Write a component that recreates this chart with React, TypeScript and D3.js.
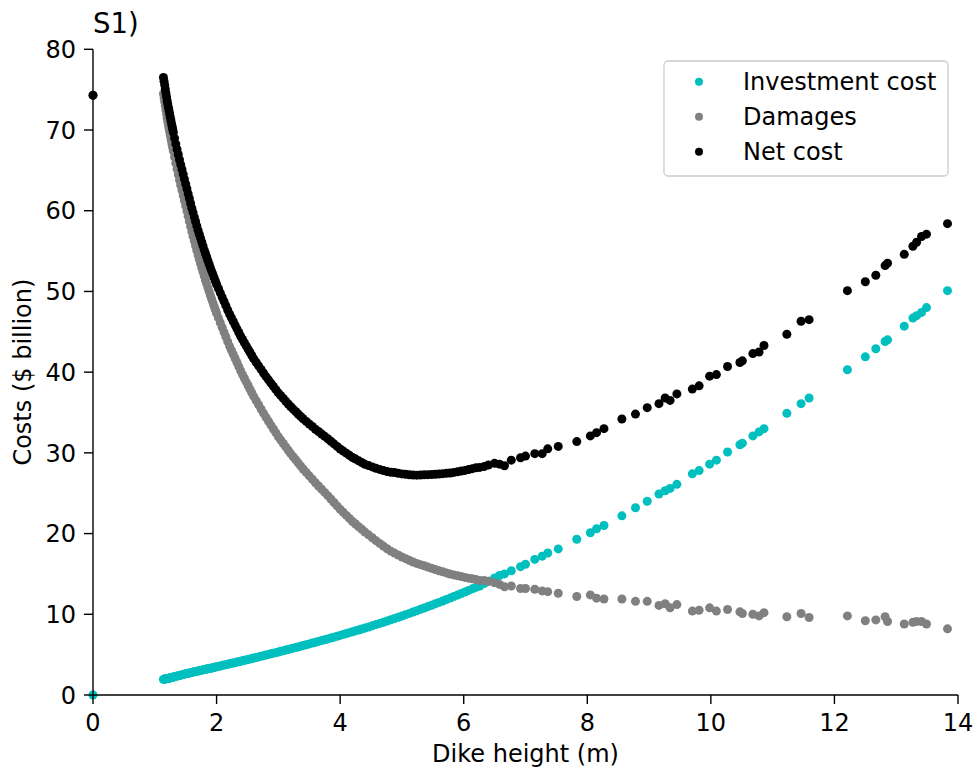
import React from "react";
import * as d3 from "d3";

const heights = [
  0,
  1.14, 1.15, 1.16, 1.17, 1.18, 1.19, 1.2, 1.21, 1.22, 1.23, 1.24, 1.25, 1.26, 1.27, 1.28, 1.29, 1.3,
  1.32, 1.34, 1.36, 1.38, 1.4, 1.42, 1.44, 1.46, 1.48, 1.5, 1.52, 1.54, 1.56, 1.58, 1.6,
  1.62, 1.64, 1.66, 1.68, 1.7, 1.72, 1.74, 1.76, 1.78, 1.8, 1.82, 1.84, 1.86, 1.88, 1.9, 1.92, 1.94, 1.96, 1.98, 2.0,
  2.03, 2.06, 2.09, 2.12, 2.15, 2.18, 2.21, 2.24, 2.27, 2.3, 2.33, 2.36, 2.39, 2.42, 2.45, 2.48, 2.51, 2.54, 2.57, 2.6,
  2.64, 2.68, 2.72, 2.76, 2.8, 2.84, 2.88, 2.92, 2.96, 3.0, 3.04, 3.08, 3.12, 3.16, 3.2, 3.24, 3.28, 3.32, 3.36, 3.4,
  3.45, 3.5, 3.55, 3.6, 3.65, 3.7, 3.75, 3.8, 3.85, 3.9, 3.95, 4.0, 4.05, 4.1, 4.15, 4.2, 4.25, 4.3, 4.35, 4.4,
  4.46, 4.52, 4.58, 4.64, 4.7, 4.76, 4.82, 4.88, 4.94, 5.0, 5.06, 5.12, 5.18, 5.24, 5.3, 5.36, 5.42, 5.48, 5.54, 5.6,
  5.66, 5.72, 5.78, 5.84, 5.9, 5.96, 6.02, 6.08, 6.14, 6.2,
  6.26, 6.33, 6.4, 6.5, 6.58, 6.66, 6.77, 6.92, 7.0, 7.15, 7.27, 7.36, 7.53, 7.83, 8.05, 8.15, 8.27,
  8.56, 8.78, 8.97, 9.16, 9.26, 9.34, 9.45, 9.7, 9.81, 9.98, 10.09, 10.27, 10.47, 10.51, 10.68, 10.78, 10.86,
  11.23, 11.46, 11.59, 12.21, 12.5, 12.67, 12.82, 12.86, 13.13, 13.27, 13.33, 13.41, 13.49, 13.83,
];

const investmentCost = [
  0,
  1.93, 1.95, 1.97, 1.98, 2.0, 2.02, 2.03, 2.05, 2.07, 2.09, 2.11, 2.13, 2.14, 2.16, 2.18, 2.2, 2.22,
  2.26, 2.3, 2.34, 2.38, 2.42, 2.46, 2.5, 2.54, 2.58, 2.62, 2.66, 2.69, 2.73, 2.76, 2.8,
  2.84, 2.87, 2.91, 2.94, 2.98, 3.01, 3.05, 3.08, 3.12, 3.15, 3.18, 3.22, 3.25, 3.29, 3.32, 3.35, 3.39, 3.42, 3.46, 3.49,
  3.54, 3.6, 3.65, 3.71, 3.76, 3.81, 3.87, 3.92, 3.97, 4.03, 4.08, 4.13, 4.18, 4.24, 4.29, 4.35, 4.4, 4.46, 4.51, 4.57,
  4.65, 4.72, 4.8, 4.87, 4.95, 5.03, 5.1, 5.18, 5.25, 5.33, 5.41, 5.49, 5.56, 5.64, 5.72, 5.8, 5.88, 5.96, 6.04, 6.12,
  6.22, 6.33, 6.43, 6.53, 6.64, 6.74, 6.85, 6.95, 7.06, 7.17, 7.27, 7.38, 7.49, 7.61, 7.72, 7.83, 7.95, 8.06, 8.18, 8.29,
  8.43, 8.58, 8.72, 8.87, 9.02, 9.17, 9.32, 9.48, 9.63, 9.79, 9.95, 10.11, 10.28, 10.44, 10.61, 10.78, 10.95, 11.12, 11.3, 11.47,
  11.65, 11.83, 12.01, 12.2, 12.38, 12.57, 12.76, 12.96, 13.15, 13.35,
  13.5, 13.8, 14.1, 14.5, 14.8, 15.0, 15.4, 15.9, 16.2, 16.8, 17.2, 17.6, 18.1, 19.3, 20.1, 20.6, 21.0,
  22.2, 23.2, 24.0, 24.9, 25.3, 25.6, 26.1, 27.4, 27.8, 28.6, 29.1, 30.1, 31.0, 31.2, 32.1, 32.6, 33.0,
  34.9, 36.1, 36.8, 40.3, 41.9, 42.9, 43.8, 44.0, 45.7, 46.7, 47.0, 47.4, 48.0, 50.1,
];

const damages = [
  74.3,
  74.5, 74.0, 73.5, 73.0, 72.5, 72.0, 71.5, 71.08, 70.66, 70.24, 69.82, 69.4, 69.0, 68.6, 68.2, 67.8, 67.4,
  66.64, 65.88, 65.16, 64.48, 63.8, 63.16, 62.52, 61.88, 61.24, 60.6, 59.96, 59.32, 58.68, 58.04, 57.4,
  56.82, 56.24, 55.66, 55.08, 54.5, 53.98, 53.46, 52.94, 52.42, 51.9, 51.42, 50.94, 50.46, 49.98, 49.5, 49.06, 48.62, 48.18, 47.74, 47.3,
  46.72, 46.13, 45.55, 44.96, 44.38, 43.79, 43.23, 42.72, 42.21, 41.7, 41.19, 40.68, 40.17, 39.7, 39.25, 38.8, 38.35, 37.9, 37.45, 37.0,
  36.48, 35.96, 35.44, 34.92, 34.4, 33.92, 33.44, 32.96, 32.48, 32.0, 31.58, 31.16, 30.74, 30.32, 29.9, 29.52, 29.14, 28.76, 28.38, 28.0,
  27.58, 27.15, 26.73, 26.3, 25.9, 25.5, 25.1, 24.7, 24.28, 23.85, 23.43, 23.0, 22.63, 22.25, 21.88, 21.5, 21.18, 20.85, 20.53, 20.2,
  19.84, 19.48, 19.12, 18.78, 18.45, 18.12, 17.82, 17.58, 17.34, 17.1, 16.89, 16.68, 16.47, 16.3, 16.15, 16.0, 15.85, 15.7, 15.55, 15.4,
  15.27, 15.13, 14.99, 14.88, 14.77, 14.67, 14.57, 14.48, 14.39, 14.3,
  14.2, 14.2, 14.1, 13.9, 13.7, 13.4, 13.5, 13.2, 13.2, 13.1, 12.9, 12.8, 12.6, 12.2, 12.4, 12.0, 11.9,
  11.9, 11.6, 11.6, 11.1, 11.3, 10.8, 11.2, 10.4, 10.5, 10.8, 10.4, 10.6, 10.3, 10.1, 10.0, 9.8, 10.2,
  9.7, 10.1, 9.6, 9.8, 9.2, 9.3, 9.7, 9.1, 8.8, 9.0, 9.1, 9.1, 8.8, 8.2,
];

const netCost = [
  74.3,
  76.5, 76.05, 75.57, 75.08, 74.6, 74.12, 73.63, 73.23, 72.83, 72.43, 72.03, 71.63, 71.24, 70.86, 70.48, 70.1, 69.72,
  69.0, 68.28, 67.6, 66.96, 66.32, 65.72, 65.12, 64.52, 63.92, 63.32, 62.72, 62.11, 61.51, 60.9, 60.3,
  59.76, 59.21, 58.67, 58.12, 57.58, 57.09, 56.61, 56.12, 55.64, 55.15, 54.7, 54.26, 53.81, 53.37, 52.92, 52.51, 52.11, 51.7, 51.3, 50.89,
  50.36, 49.83, 49.3, 48.77, 48.24, 47.7, 47.2, 46.74, 46.28, 45.83, 45.37, 44.91, 44.45, 44.04, 43.64, 43.25, 42.85, 42.46, 42.06, 41.67,
  41.23, 40.78, 40.34, 39.89, 39.45, 39.05, 38.64, 38.24, 37.83, 37.43, 37.09, 36.75, 36.4, 36.06, 35.72, 35.42, 35.12, 34.82, 34.52, 34.22,
  33.9, 33.58, 33.26, 32.93, 32.64, 32.34, 32.05, 31.75, 31.44, 31.12, 30.8, 30.48, 30.22, 29.96, 29.7, 29.43, 29.23, 29.01, 28.81, 28.59,
  28.42, 28.26, 28.09, 27.95, 27.82, 27.69, 27.59, 27.56, 27.47, 27.39, 27.34, 27.29, 27.25, 27.24, 27.26, 27.28, 27.3, 27.32, 27.35, 27.37,
  27.42, 27.46, 27.5, 27.58, 27.65, 27.74, 27.83, 27.94, 28.04, 28.15,
  28.2, 28.3, 28.5, 28.7, 28.6, 28.4, 29.1, 29.4, 29.6, 29.9, 29.9, 30.5, 30.8, 31.4, 32.1, 32.5, 33.0,
  34.2, 34.8, 35.6, 36.1, 36.8, 36.5, 37.3, 37.9, 38.3, 39.5, 39.7, 40.7, 41.2, 41.4, 42.3, 42.5, 43.3,
  44.7, 46.3, 46.5, 50.1, 51.2, 52.0, 53.2, 53.5, 54.6, 55.6, 56.1, 56.8, 57.1, 58.4,
];

const seriesNames = ["Investment cost", "Damages", "Net cost"];
const seriesColors = ["#00bfbf", "#808080", "#000000"];
const xTicks = [0, 2, 4, 6, 8, 10, 12, 14];
const yTicks = [0, 10, 20, 30, 40, 50, 60, 70, 80];

const W = 980;
const H = 773;
const FONT = "DejaVu Sans, sans-serif";
const FS = 24;

export default function App() {
  const x = d3.scaleLinear().domain([0, 14]).range([93, 958]);
  const y = d3.scaleLinear().domain([0, 80]).range([695, 49.3]);
  const series = [investmentCost, damages, netCost];
  const r = 4.5;

  return (
    <svg
      width={W}
      height={H}
      style={{ position: "absolute", left: 0, top: 0, background: "#fff" }}
      fontFamily={FONT}
    >
      <rect x={0} y={0} width={W} height={H} fill="#fff" />
      {series.map((vals, si) => (
        <g key={si} fill={seriesColors[si]}>
          {vals.map((v, i) => (
            <circle key={i} cx={x(heights[i])} cy={y(v)} r={r} />
          ))}
        </g>
      ))}
      <line x1={x(0)} x2={x(14)} y1={y(0)} y2={y(0)} stroke="#000" strokeWidth={1.4} />
      <line x1={x(0)} x2={x(0)} y1={y(0)} y2={y(80)} stroke="#000" strokeWidth={1.4} />
      {xTicks.map((t) => (
        <g key={"x" + t}>
          <line x1={x(t)} x2={x(t)} y1={y(0)} y2={y(0) + 9} stroke="#000" strokeWidth={1.4} />
          <text x={x(t)} y={731} textAnchor="middle" fontSize={FS} fill="#000">
            {t}
          </text>
        </g>
      ))}
      {yTicks.map((t) => (
        <g key={"y" + t}>
          <line x1={x(0) - 9} x2={x(0)} y1={y(t)} y2={y(t)} stroke="#000" strokeWidth={1.4} />
          <text x={76} y={y(t) + 8.7} textAnchor="end" fontSize={FS} fill="#000">
            {t}
          </text>
        </g>
      ))}
      <text x={(x(0) + x(14)) / 2} y={762} textAnchor="middle" fontSize={FS} fill="#000">
        Dike height (m)
      </text>
      <text
        transform={`translate(31, ${(y(0) + y(80)) / 2}) rotate(-90)`}
        textAnchor="middle"
        fontSize={FS}
        fill="#000"
      >
        Costs ($ billion)
      </text>
      <text x={93} y={33} fontSize={27.5} fill="#000">
        S1)
      </text>
      <rect x={664} y={61} width={284} height={115} rx={4} fill="#fff" fillOpacity={0.8} stroke="#cccccc" strokeWidth={1.3} />
      {seriesNames.map((name, i) => (
        <g key={name}>
          <circle cx={699} cy={81.7 + i * 35} r={4} fill={seriesColors[i]} />
          <text x={743} y={81.7 + i * 35 + 8.7} fontSize={FS} fill="#000">
            {name}
          </text>
        </g>
      ))}
    </svg>
  );
}
